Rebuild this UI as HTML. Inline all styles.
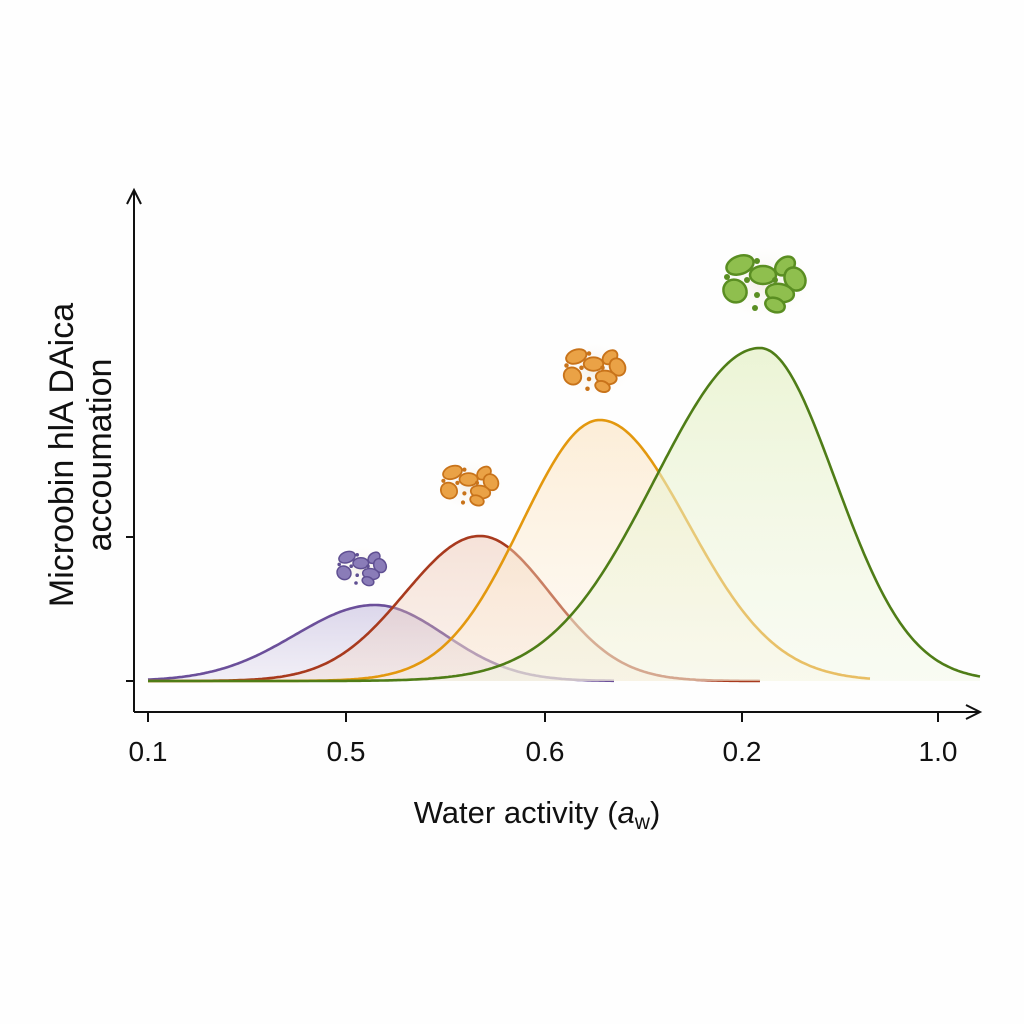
<!DOCTYPE html>
<html><head><meta charset="utf-8"><style>
html,body{margin:0;padding:0;background:#fefefe;}
svg{display:block;font-family:"Liberation Sans",Arial,sans-serif;}
</style></head><body>
<svg id="s" width="1024" height="1024" viewBox="0 0 1024 1024" xmlns="http://www.w3.org/2000/svg">
<defs>
<linearGradient id="gp" x1="0" y1="0" x2="0" y2="1"><stop offset="0" stop-color="#9b8cc6" stop-opacity="0.35"/><stop offset="1" stop-color="#c9c0df" stop-opacity="0.25"/></linearGradient>
<linearGradient id="gr" x1="0" y1="0" x2="0" y2="1"><stop offset="0" stop-color="#e8b8a0" stop-opacity="0.4"/><stop offset="1" stop-color="#f3d5c2" stop-opacity="0.3"/></linearGradient>
<linearGradient id="go" x1="0" y1="0" x2="0" y2="1"><stop offset="0" stop-color="#fbe0b8" stop-opacity="0.55"/><stop offset="1" stop-color="#fdf0dc" stop-opacity="0.3"/></linearGradient>
<linearGradient id="gg" x1="0" y1="0" x2="0" y2="1"><stop offset="0" stop-color="#e4f0c4" stop-opacity="0.7"/><stop offset="1" stop-color="#f1f7e2" stop-opacity="0.4"/></linearGradient>
<radialGradient id="halo"><stop offset="0" stop-color="#f3eee6"/><stop offset="1" stop-color="#ffffff" stop-opacity="0"/></radialGradient>
</defs>
<g id="curves"></g>
<g stroke="#111" stroke-width="2" fill="none">
<line x1="134" y1="712" x2="134" y2="192"/>
<polyline points="127,204 134,190 141,204"/>
<line x1="134" y1="712" x2="978" y2="712"/>
<polyline points="966,705 980,712 966,719"/>
<line x1="148" y1="712" x2="148" y2="722"/><line x1="346" y1="712" x2="346" y2="722"/><line x1="545" y1="712" x2="545" y2="722"/><line x1="742" y1="712" x2="742" y2="722"/><line x1="938" y1="712" x2="938" y2="722"/>
<line x1="126" y1="537" x2="134" y2="537"/>
<line x1="126" y1="681" x2="134" y2="681"/>
</g>
<g font-size="28" fill="#111" text-anchor="middle">
<text x="148" y="761">0.1</text><text x="346" y="761">0.5</text><text x="545" y="761">0.6</text><text x="742" y="761">0.2</text><text x="938" y="761">1.0</text>
<text x="537" y="823" font-size="31">Water activity (<tspan font-style="italic">a</tspan><tspan font-size="21" dy="6">w</tspan><tspan dy="-6">)</tspan></text>
</g>
<g font-size="34" fill="#111" text-anchor="middle">
<text transform="translate(73,455) rotate(-90)">Microobin hlA DAica</text>
<text transform="translate(111,455) rotate(-90)">accoumation</text>
</g>
<g id="icons"></g>
</svg>
<script>
var B=681;
var cs=[
 {m:375,h:76,sl:80,sr:70,x0:148,x1:615,c:"#6b4f9a",f:"url(#gp)"},
 {m:480,h:145,sl:75,sr:70,x0:148,x1:760,c:"#a83a1e",f:"url(#gr)"},
 {m:600,h:261,sl:78,sr:88,x0:148,x1:870,c:"#e3980e",f:"url(#go)"},
 {m:760,h:333,sl:105,sr:75,x0:148,x1:980,c:"#4f7d17",f:"url(#gg)"}];
var g=document.getElementById('curves'),h="";
cs.forEach(function(c){var d="";for(var x=c.x0;x<=c.x1;x+=2){var s=x<c.m?c.sl:c.sr;var y=B-c.h*Math.exp(-(x-c.m)*(x-c.m)/(2*s*s));d+=(x==c.x0?"M":"L")+x+","+y.toFixed(1);}
h+='<path d="'+d+'L'+c.x1+','+B+'L'+c.x0+','+B+'Z" fill="'+c.f+'"/>';
h+='<path d="'+d+'" fill="none" stroke="'+c.c+'" stroke-width="2.6"/>';});
g.innerHTML=h;
var ic=[{x:362,y:568,s:0.6,c:"#8a7cb8",e:"#5f4f92"},{x:470,y:485,s:0.7,c:"#eaa246",e:"#c8731a"},{x:595,y:370,s:0.75,c:"#eaa246",e:"#c8731a"},{x:765,y:283,s:1,c:"#8fbf4e",e:"#5a8e22"}];
var blobs=[[-25,-18,14,9,-20],[-2,-8,13,9,0],[20,-17,11,8,-40],[30,-4,12,10,60],[-30,8,12,11,40],[15,10,14,9,10],[10,22,10,7,20]];
var dots=[[-8,-22],[-38,-6],[-18,-3],[-8,12],[-10,25],[10,-3]];
var t="";
ic.forEach(function(a){t+='<g transform="translate('+a.x+','+a.y+') scale('+a.s+')"><ellipse rx="55" ry="42" fill="url(#halo)"/>';
blobs.forEach(function(b){t+='<ellipse cx="'+b[0]+'" cy="'+b[1]+'" rx="'+b[2]+'" ry="'+b[3]+'" transform="rotate('+b[4]+' '+b[0]+' '+b[1]+')" fill="'+a.c+'" stroke="'+a.e+'" stroke-width="2.5"/>';});
dots.forEach(function(d){t+='<circle cx="'+d[0]+'" cy="'+d[1]+'" r="3" fill="'+a.e+'"/>';});
t+='</g>';});
document.getElementById('icons').innerHTML=t;
</script>
</body></html>
